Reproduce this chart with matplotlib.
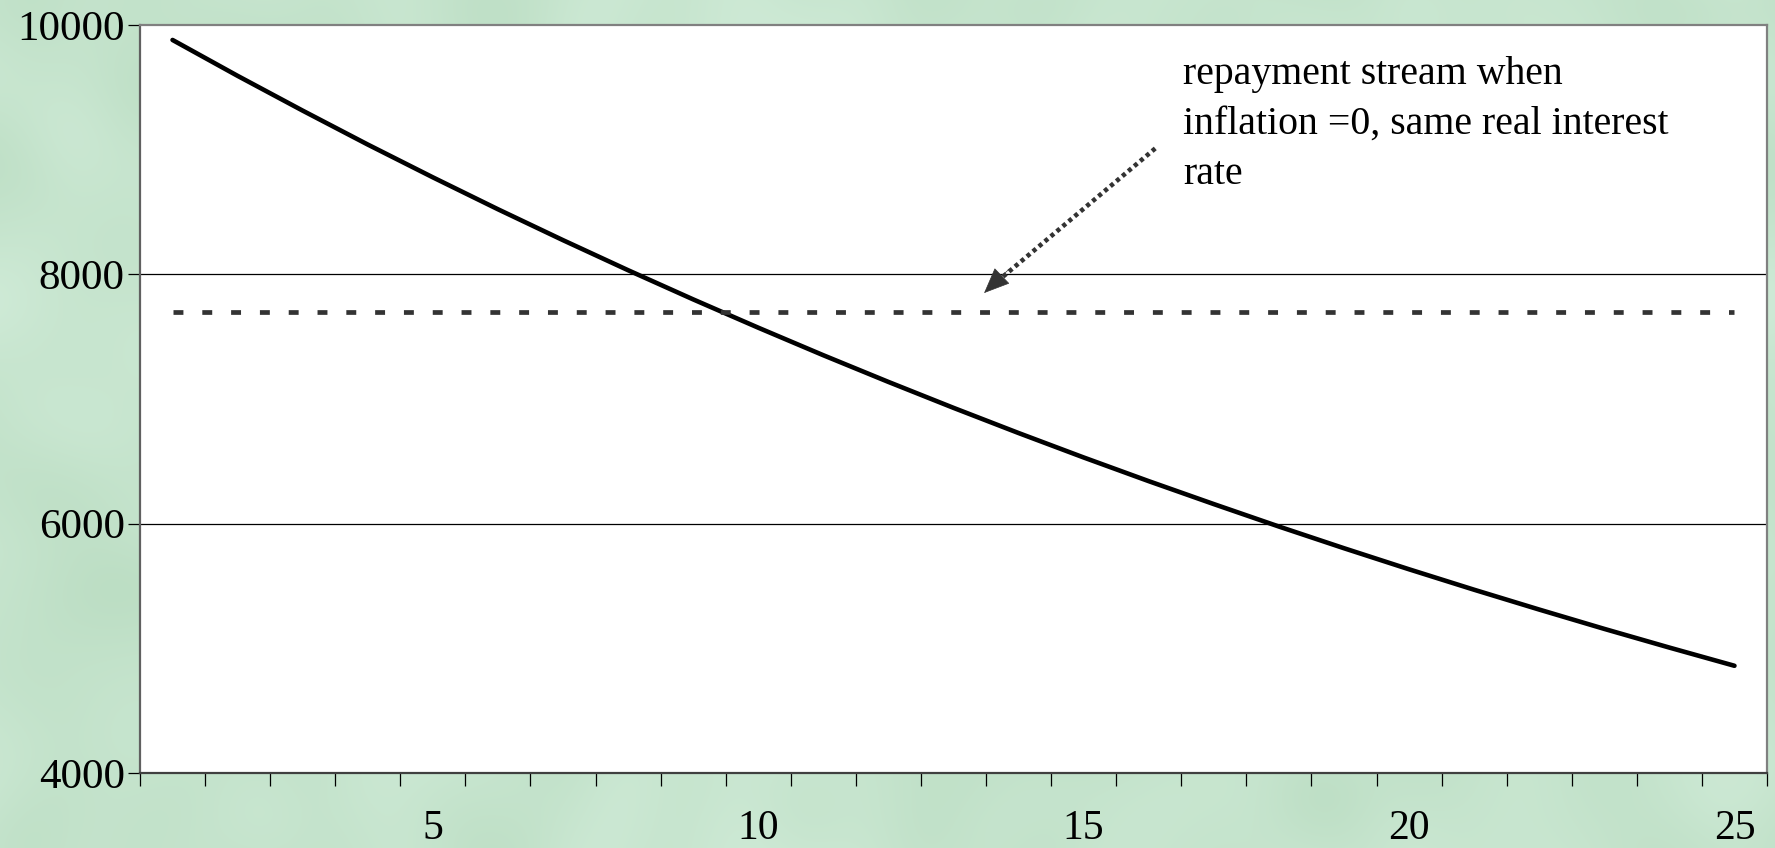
import numpy as np
import matplotlib.pyplot as plt
from matplotlib.ticker import FixedLocator, NullFormatter

# ------------------ DATA ------------------ #
years = list(range(1, 26))
real_repayment = [9880, 9592, 9313, 9041, 8778, 8522, 8274, 8033, 7799, 7572,
                  7351, 7137, 6929, 6727, 6531, 6341, 6157, 5977, 5803, 5634,
                  5470, 5311, 5156, 5006, 4860]
zero_inflation_level = 7700
y_ticks = [4000, 6000, 8000, 10000]
x_labels = [5, 10, 15, 20, 25]
note = "repayment stream when\ninflation =0, same real interest\nrate"

plt.rcParams['font.family'] = ['Liberation Serif', 'DejaVu Serif']

fig = plt.figure(figsize=(17.75, 8.48), dpi=100)

# ------------------ GREEN PAPER BACKGROUND ------------------ #
rng = np.random.default_rng(7)
h, w = 848, 1775
noise = rng.normal(size=(h, w))
fy = np.fft.fftfreq(h)[:, None]
fx = np.fft.fftfreq(w)[None, :]
smooth = np.real(np.fft.ifft2(np.fft.fft2(noise) * np.exp(-(fx**2 + fy**2) * 30000)))
smooth = (smooth - smooth.mean()) / smooth.std()
base = np.array([0.775, 0.895, 0.805])
tint = np.array([0.012, 0.008, 0.012])
bg = np.clip(base[None, None, :] + smooth[:, :, None] * tint[None, None, :], 0, 1)
fig.figimage(bg, xo=0, yo=0, zorder=-10)

ax = fig.add_axes([140 / 1775, 1 - 773 / 848, 1627 / 1775, 748 / 848])
ax.set_facecolor('white')

# ------------------ LINES ------------------ #
ax.plot(years, real_repayment, color='black', lw=3.3, solid_capstyle='round', zorder=3)
ax.plot([years[0], years[-1]], [zero_inflation_level] * 2, color='#333333', lw=3.4,
        linestyle=(0, (2.1, 4.0)), dash_capstyle='butt', zorder=3)

ax.set_xlim(0.5, 25.5)
ax.set_ylim(4000, 10000)

# gridlines at the y ticks
for v in y_ticks[1:-1]:
    ax.axhline(v, color='black', lw=0.9, zorder=1)

# ------------------ AXES STYLE ------------------ #
ax.spines['left'].set_color('#606060')
ax.spines['bottom'].set_color('#404040')
ax.spines['top'].set_color('#808080')
ax.spines['right'].set_color('#808080')
for s in ax.spines.values():
    s.set_linewidth(1.6)

ax.set_yticks(y_ticks)
ax.set_yticklabels([str(v) for v in y_ticks], fontsize=31)
ax.tick_params(axis='y', direction='out', length=9, width=0.9, pad=2, color='black')

ax.xaxis.set_major_locator(FixedLocator(np.arange(0.5, 26, 1.0)))
ax.xaxis.set_major_formatter(NullFormatter())
ax.xaxis.set_minor_locator(FixedLocator(x_labels))
ax.set_xticklabels([str(v) for v in x_labels], minor=True, fontsize=30)
ax.tick_params(axis='x', which='major', direction='out', length=9, width=0.9, color='black')
ax.tick_params(axis='x', which='minor', length=0, pad=26)

# ------------------ ANNOTATION ------------------ #
ax.text(0.641, 0.958, note, transform=ax.transAxes, fontsize=28.6, va='top', ha='left',
        linespacing=1.45)
ax.annotate('', xy=(13.62, 7920), xytext=(16.1, 9010),
            arrowprops=dict(arrowstyle='-', color='#333333', lw=3.3, linestyle=(0, (0.9, 0.8)),
                            capstyle='butt', shrinkA=0, shrinkB=0))
ax.annotate('', xy=(13.47, 7850), xytext=(13.85, 8040),
            arrowprops=dict(arrowstyle='-|>,head_length=0.85,head_width=0.36', color='#333333',
                            lw=0.5, mutation_scale=20, shrinkA=0, shrinkB=0))

fig.savefig('out.png', dpi=100)
